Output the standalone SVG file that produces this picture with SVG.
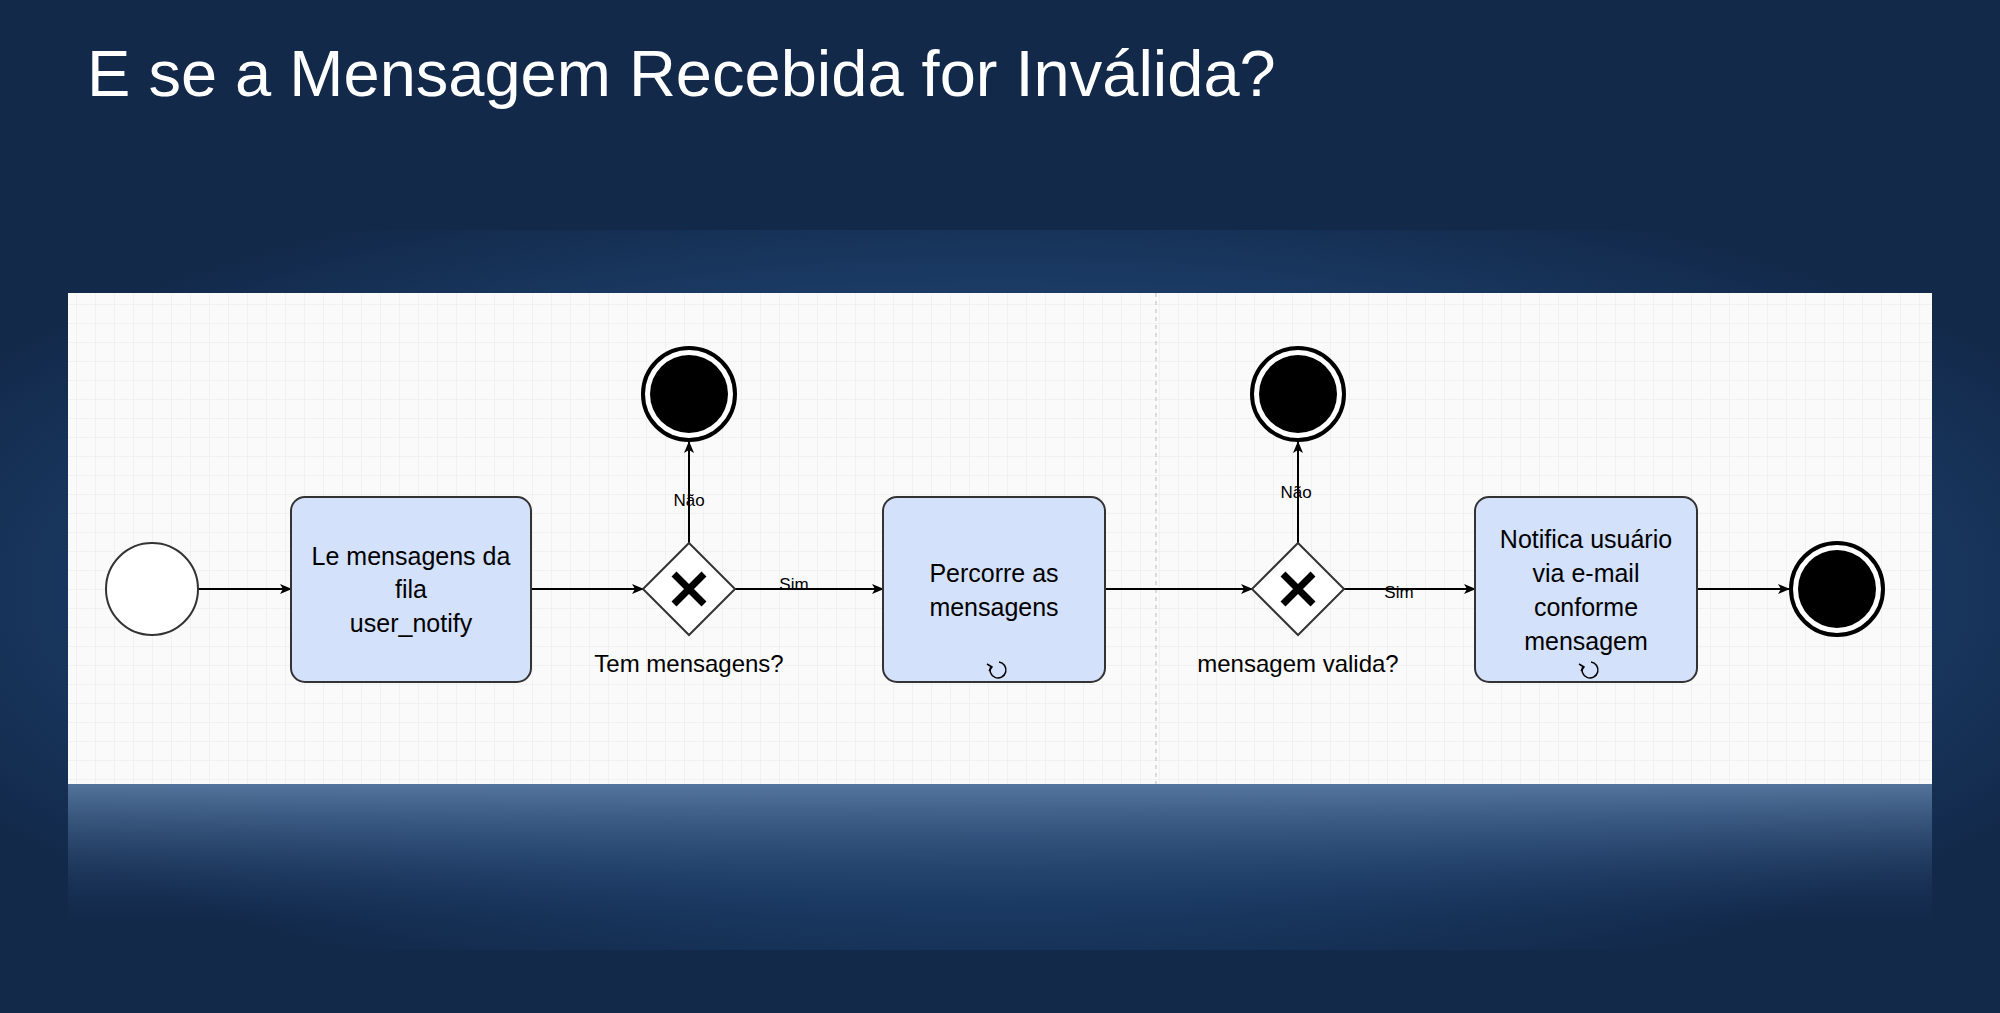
<svg xmlns="http://www.w3.org/2000/svg" width="2000" height="1013" viewBox="0 0 2000 1013">
<defs>
<radialGradient id="glow" cx="0.5" cy="0.5" r="0.6">
<stop offset="0" stop-color="#3a6aa3"/><stop offset="0.7" stop-color="#1d3f6b"/><stop offset="1" stop-color="#12294a"/>
</radialGradient>
<linearGradient id="refl" x1="0" y1="0" x2="0" y2="1">
<stop offset="0" stop-color="#5a7ba3" stop-opacity="0.9"/><stop offset="1" stop-color="#1a3560" stop-opacity="0"/>
</linearGradient>
<pattern id="grid" width="19" height="19" patternUnits="userSpaceOnUse">
<path d="M19 0H0V19" fill="none" stroke="#e8e8e8" stroke-width="1"/>
</pattern>
<marker id="arr" markerWidth="12" markerHeight="10" refX="11" refY="5" orient="auto" markerUnits="userSpaceOnUse">
<path d="M0 0L12 5L0 10L3 5Z" fill="#000"/>
</marker>
</defs>
<style>
.task{fill:#d4e1fb;stroke:#333;stroke-width:2}
.t{font-family:"Liberation Sans",Arial,sans-serif;fill:#000}
.c{stroke:#000;stroke-width:2;fill:none;marker-end:url(#arr)}
</style>
<rect width="2000" height="1013" fill="#12294a"/>
<rect x="0" y="230" width="2000" height="720" fill="url(#glow)" opacity="0.8"/>
<rect x="68" y="784" width="1864" height="140" fill="url(#refl)"/>
<text x="87" y="96" class="t" font-size="65" style="fill:#fff">E se a Mensagem Recebida for Inválida?</text>
<rect x="68" y="293" width="1864" height="491" fill="#fafafa"/>
<rect x="68" y="293" width="1864" height="491" fill="url(#grid)"/>
<line x1="1156" y1="293" x2="1156" y2="784" stroke="#bbb" stroke-dasharray="4 4"/>
<g id="connectors">
<line class="c" x1="198" y1="589" x2="291" y2="589"/>
<line class="c" x1="531" y1="589" x2="643" y2="589"/>
<line class="c" x1="689" y1="543" x2="689" y2="442"/>
<line class="c" x1="735" y1="589" x2="883" y2="589"/>
<line class="c" x1="1105" y1="589" x2="1252" y2="589"/>
<line class="c" x1="1298" y1="543" x2="1298" y2="442"/>
<line class="c" x1="1344" y1="589" x2="1475" y2="589"/>
<line class="c" x1="1697" y1="589" x2="1789" y2="589"/>
<text x="689" y="506" class="t" font-size="17" text-anchor="middle">Não</text>
<text x="1296" y="498" class="t" font-size="17" text-anchor="middle">Não</text>
<text x="794" y="590" class="t" font-size="17" text-anchor="middle">Sim</text>
<text x="1399" y="598" class="t" font-size="17" text-anchor="middle">Sim</text>
</g>
<g id="start"><circle cx="152" cy="589" r="46" fill="#fff" stroke="#333" stroke-width="2"/></g>
<g id="task1"><rect class="task" x="291" y="497" width="240" height="185" rx="14"/>
<text class="t" font-size="25" text-anchor="middle"><tspan x="411" y="565">Le mensagens da</tspan><tspan x="411" y="598">fila</tspan><tspan x="411" y="632">user_notify</tspan></text></g>
<g id="gw1"><path d="M689 543L735 589L689 635L643 589Z" fill="#fff" stroke="#333" stroke-width="2"/>
<path d="M674 574L704 604M704 574L674 604" stroke="#000" stroke-width="7"/>
<text x="689" y="672" class="t" font-size="24" text-anchor="middle">Tem mensagens?</text></g>
<g id="end1"><circle cx="689" cy="394" r="46" fill="#fff" stroke="#000" stroke-width="4"/><circle cx="689" cy="394" r="39" fill="#000"/></g>
<g id="task2"><rect class="task" x="883" y="497" width="222" height="185" rx="14"/>
<text class="t" font-size="25" text-anchor="middle"><tspan x="994" y="582">Percorre as</tspan><tspan x="994" y="616">mensagens</tspan></text>
<path d="M999 662A8 8 0 1 1 991 666" fill="none" stroke="#000" stroke-width="1.5"/><path d="M987 664L992 667L989 671" fill="none" stroke="#000" stroke-width="1.5"/></g>
<g id="gw2"><path d="M1298 543L1344 589L1298 635L1252 589Z" fill="#fff" stroke="#333" stroke-width="2"/>
<path d="M1283 574L1313 604M1313 574L1283 604" stroke="#000" stroke-width="7"/>
<text x="1298" y="672" class="t" font-size="24" text-anchor="middle">mensagem valida?</text></g>
<g id="end2"><circle cx="1298" cy="394" r="46" fill="#fff" stroke="#000" stroke-width="4"/><circle cx="1298" cy="394" r="39" fill="#000"/></g>
<g id="task3"><rect class="task" x="1475" y="497" width="222" height="185" rx="14"/>
<text class="t" font-size="25" text-anchor="middle"><tspan x="1586" y="548">Notifica usuário</tspan><tspan x="1586" y="582">via e-mail</tspan><tspan x="1586" y="616">conforme</tspan><tspan x="1586" y="650">mensagem</tspan></text>
<path d="M1591 662A8 8 0 1 1 1583 666" fill="none" stroke="#000" stroke-width="1.5"/><path d="M1579 664L1584 667L1581 671" fill="none" stroke="#000" stroke-width="1.5"/></g>
<g id="end3"><circle cx="1837" cy="589" r="46" fill="#fff" stroke="#000" stroke-width="4"/><circle cx="1837" cy="589" r="39" fill="#000"/></g>
</svg>
